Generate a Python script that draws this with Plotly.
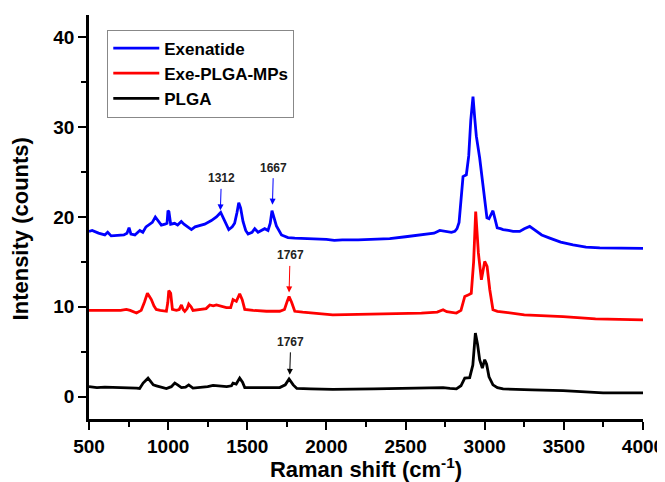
import plotly.graph_objects as go

# ---------------- data ----------------
series_names = ["Exenatide", "Exe-PLGA-MPs", "PLGA"]
series_colors = ["#0000ff", "#ff0000", "#000000"]

x_exenatide = [500, 520, 560, 600, 618, 640, 680, 720, 740, 753, 765, 790, 821, 840, 860, 880, 900,
               919, 935, 957, 980, 993, 999, 1005, 1016, 1041, 1060, 1083, 1100, 1115, 1147, 1170,
               1189, 1231, 1273, 1305, 1332, 1357, 1383, 1405, 1420, 1435, 1446, 1458, 1473, 1490,
               1505, 1530, 1547, 1568, 1590, 1610, 1631, 1645, 1656, 1668, 1684, 1716, 1757, 1800,
               1900, 2000, 2050, 2100, 2200, 2300, 2400, 2500, 2600, 2680, 2716, 2750, 2790, 2811,
               2825, 2838, 2850, 2863, 2884, 2899, 2912, 2926, 2937, 2947, 2968, 2985, 3000, 3014,
               3027, 3040, 3052, 3065, 3079, 3100, 3116, 3150, 3179, 3221, 3250, 3284, 3320, 3360,
               3411, 3480, 3558, 3640, 3727, 3850, 4000]
y_exenatide = [18.4, 18.5, 18.2, 18.0, 18.3, 17.9, 17.95, 18.0, 18.2, 18.8, 18.1, 18.0, 18.5, 18.3,
               18.9, 19.2, 19.4, 20.0, 19.6, 19.1, 19.2, 19.3, 20.7, 20.6, 19.2, 19.3, 19.1, 19.5,
               19.2, 19.0, 18.6, 18.9, 19.0, 19.2, 19.6, 20.0, 20.5, 19.5, 18.6, 18.9, 19.3, 20.5,
               21.6, 21.0, 19.5, 18.5, 18.1, 18.3, 18.7, 18.3, 18.5, 18.7, 18.5, 19.3, 20.7, 20.0,
               19.0, 18.0, 17.7, 17.65, 17.6, 17.5, 17.4, 17.45, 17.45, 17.5, 17.6, 17.8, 18.0,
               18.2, 18.5, 18.4, 18.3, 18.4, 18.7, 19.4, 21.5, 24.5, 24.7, 26.8, 30.8, 33.4, 31.0,
               29.0, 26.6, 24.2, 21.5, 19.9, 19.8, 20.3, 20.7, 19.8, 18.8, 18.7, 18.6, 18.5, 18.4,
               18.4, 18.7, 18.95, 18.5, 18.0, 17.65, 17.2, 16.9, 16.65, 16.55, 16.5, 16.5]

x_mps = [500, 540, 600, 650, 700, 736, 760, 800, 830, 850, 869, 880, 894, 910, 925, 950, 989, 998,
         1004, 1016, 1027, 1052, 1070, 1084, 1095, 1105, 1120, 1130, 1145, 1157, 1199, 1240, 1263,
         1285, 1305, 1340, 1368, 1395, 1410, 1431, 1452, 1468, 1484, 1537, 1621, 1705, 1735, 1752,
         1764, 1780, 1800, 1850, 1950, 2040, 2200, 2400, 2600, 2700, 2737, 2760, 2821, 2850, 2874,
         2895, 2915, 2930, 2943, 2960, 2979, 3000, 3015, 3032, 3052, 3080, 3116, 3250, 3495, 3700,
         3850, 4000]
y_mps = [9.6, 9.6, 9.55, 9.6, 9.6, 9.7, 9.6, 9.3, 9.6, 10.5, 11.5, 11.2, 10.8, 10.1, 9.7, 9.6, 9.5,
         10.5, 11.8, 11.5, 9.7, 9.6, 9.7, 10.2, 9.7, 9.5, 9.8, 10.3, 10.0, 9.6, 9.7, 9.8, 10.2, 10.1,
         10.2, 10.0, 9.9, 9.9, 10.8, 10.6, 11.45, 10.8, 9.7, 9.6, 9.5, 9.5, 9.7, 10.6, 11.15, 10.5,
         9.5, 9.4, 9.2, 9.1, 9.15, 9.2, 9.3, 9.4, 9.67, 9.45, 9.3, 9.6, 11.15, 11.3, 11.5, 15.0,
         20.6, 16.0, 13.0, 15.05, 14.5, 11.9, 9.67, 9.5, 9.4, 9.1, 8.9, 8.65, 8.6, 8.55]

x_plga = [500, 550, 600, 700, 760, 800, 820, 842, 873, 890, 906, 926, 960, 989, 1020, 1042, 1060,
          1084, 1110, 1130, 1157, 1200, 1250, 1284, 1320, 1370, 1400, 1410, 1430, 1452, 1470, 1484,
          1550, 1650, 1705, 1740, 1764, 1790, 1813, 1900, 2040, 2300, 2600, 2700, 2737, 2780, 2821,
          2850, 2874, 2905, 2925, 2941, 2955, 2968, 2985, 3000, 3012, 3027, 3052, 3080, 3116, 3300,
          3495, 3748, 4000]
y_plga = [1.1, 1.0, 1.05, 1.0, 1.05, 0.95, 0.9, 1.5, 2.05, 1.7, 1.3, 1.2, 1.0, 0.9, 1.1, 1.5, 1.3,
          1.0, 1.05, 1.3, 0.95, 1.0, 1.1, 1.25, 1.2, 1.1, 1.2, 1.5, 1.4, 2.05, 1.6, 1.0, 1.0, 0.95,
          1.0, 1.3, 1.95, 1.3, 0.9, 0.85, 0.8, 0.85, 0.9, 0.95, 1.0, 0.9, 0.85, 1.2, 2.05, 2.1, 3.5,
          7.07, 5.8, 4.1, 3.16, 4.1, 3.6, 2.2, 1.3, 1.0, 0.85, 0.75, 0.67, 0.4, 0.4]

# peak annotations: label, arrow tip (x, y), colour
ann_labels = ["1312", "1667", "1767", "1767"]
ann_x = [1330, 1659, 1764, 1768]
ann_y = [20.74, 21.37, 11.6, 2.42]
ann_colors = ["#0000ff", "#0000ff", "#ff0000", "#000000"]
ann_offsets = [-32, -37, -37, -33]

x_ticks = [500, 1000, 1500, 2000, 2500, 3000, 3500, 4000]
y_ticks = [0, 10, 20, 30, 40]

# ---------------- figure ----------------
FONT = "Arial, Liberation Sans, sans-serif"
fig = go.Figure()
for name, color, xs, ys in zip(series_names, series_colors,
                               [x_exenatide, x_mps, x_plga],
                               [y_exenatide, y_mps, y_plga]):
    fig.add_trace(go.Scatter(x=xs, y=ys, mode="lines", name=name,
                             line=dict(color=color, width=2.8)))

for lab, ax_, ay_, col, off in zip(ann_labels, ann_x, ann_y, ann_colors, ann_offsets):
    fig.add_annotation(x=ax_, y=ay_, xref="x", yref="y", text="<b>" + lab + "</b>",
                       showarrow=True, ax=1, ay=off, arrowhead=2, arrowsize=1.2,
                       arrowwidth=1, arrowcolor=col, startstandoff=2,
                       font=dict(family=FONT, size=12, color="#222222"))

# y-axis title (placed as rotated text, slightly below the axis centre as in the reference)
fig.add_annotation(xref="paper", yref="paper", x=-0.124, y=0.47, xanchor="center",
                   yanchor="middle", textangle=-90, showarrow=False,
                   text="<b>Intensity (counts)</b>",
                   font=dict(family=FONT, size=22, color="black"))

axis_common = dict(showline=True, linecolor="black", linewidth=2.5, ticks="outside",
                   ticklen=8, tickwidth=2, tickcolor="black", showgrid=False, zeroline=False,
                   mirror=False, automargin=False,
                   tickfont=dict(family=FONT, size=19, color="black", weight="bold"))

fig.update_xaxes(range=[500, 4000], tickvals=x_ticks, ticktext=[str(v) for v in x_ticks],
                 minor=dict(ticks="outside", ticklen=5, tickwidth=2, tickcolor="black", dtick=250,
                            tick0=500, showgrid=False),
                 title=dict(text="<b>Raman shift (cm<sup>-1</sup>)</b>", standoff=6,
                            font=dict(family=FONT, size=22, color="black")),
                 **axis_common)
fig.update_yaxes(range=[-2.5, 42.5], tickvals=y_ticks, ticktext=[str(v) for v in y_ticks],
                 minor=dict(ticks="outside", ticklen=5, tickwidth=2, tickcolor="black", dtick=5,
                            tick0=0, showgrid=False),
                 **axis_common)

# the page body has an 8px margin, so the figure is sized to fill the rest of the window
fig.update_layout(
    width=657, height=474,
    margin=dict(l=81, r=22, t=7, b=63),
    paper_bgcolor="white", plot_bgcolor="white",
    showlegend=True,
    legend=dict(x=0.033, y=0.964, xanchor="left", yanchor="top",
                bgcolor="white", bordercolor="#888888", borderwidth=1,
                font=dict(family=FONT, size=17, color="black", weight="bold"),
                itemwidth=46, tracegroupgap=0, traceorder="normal"),
)

fig.write_html("out.html")
